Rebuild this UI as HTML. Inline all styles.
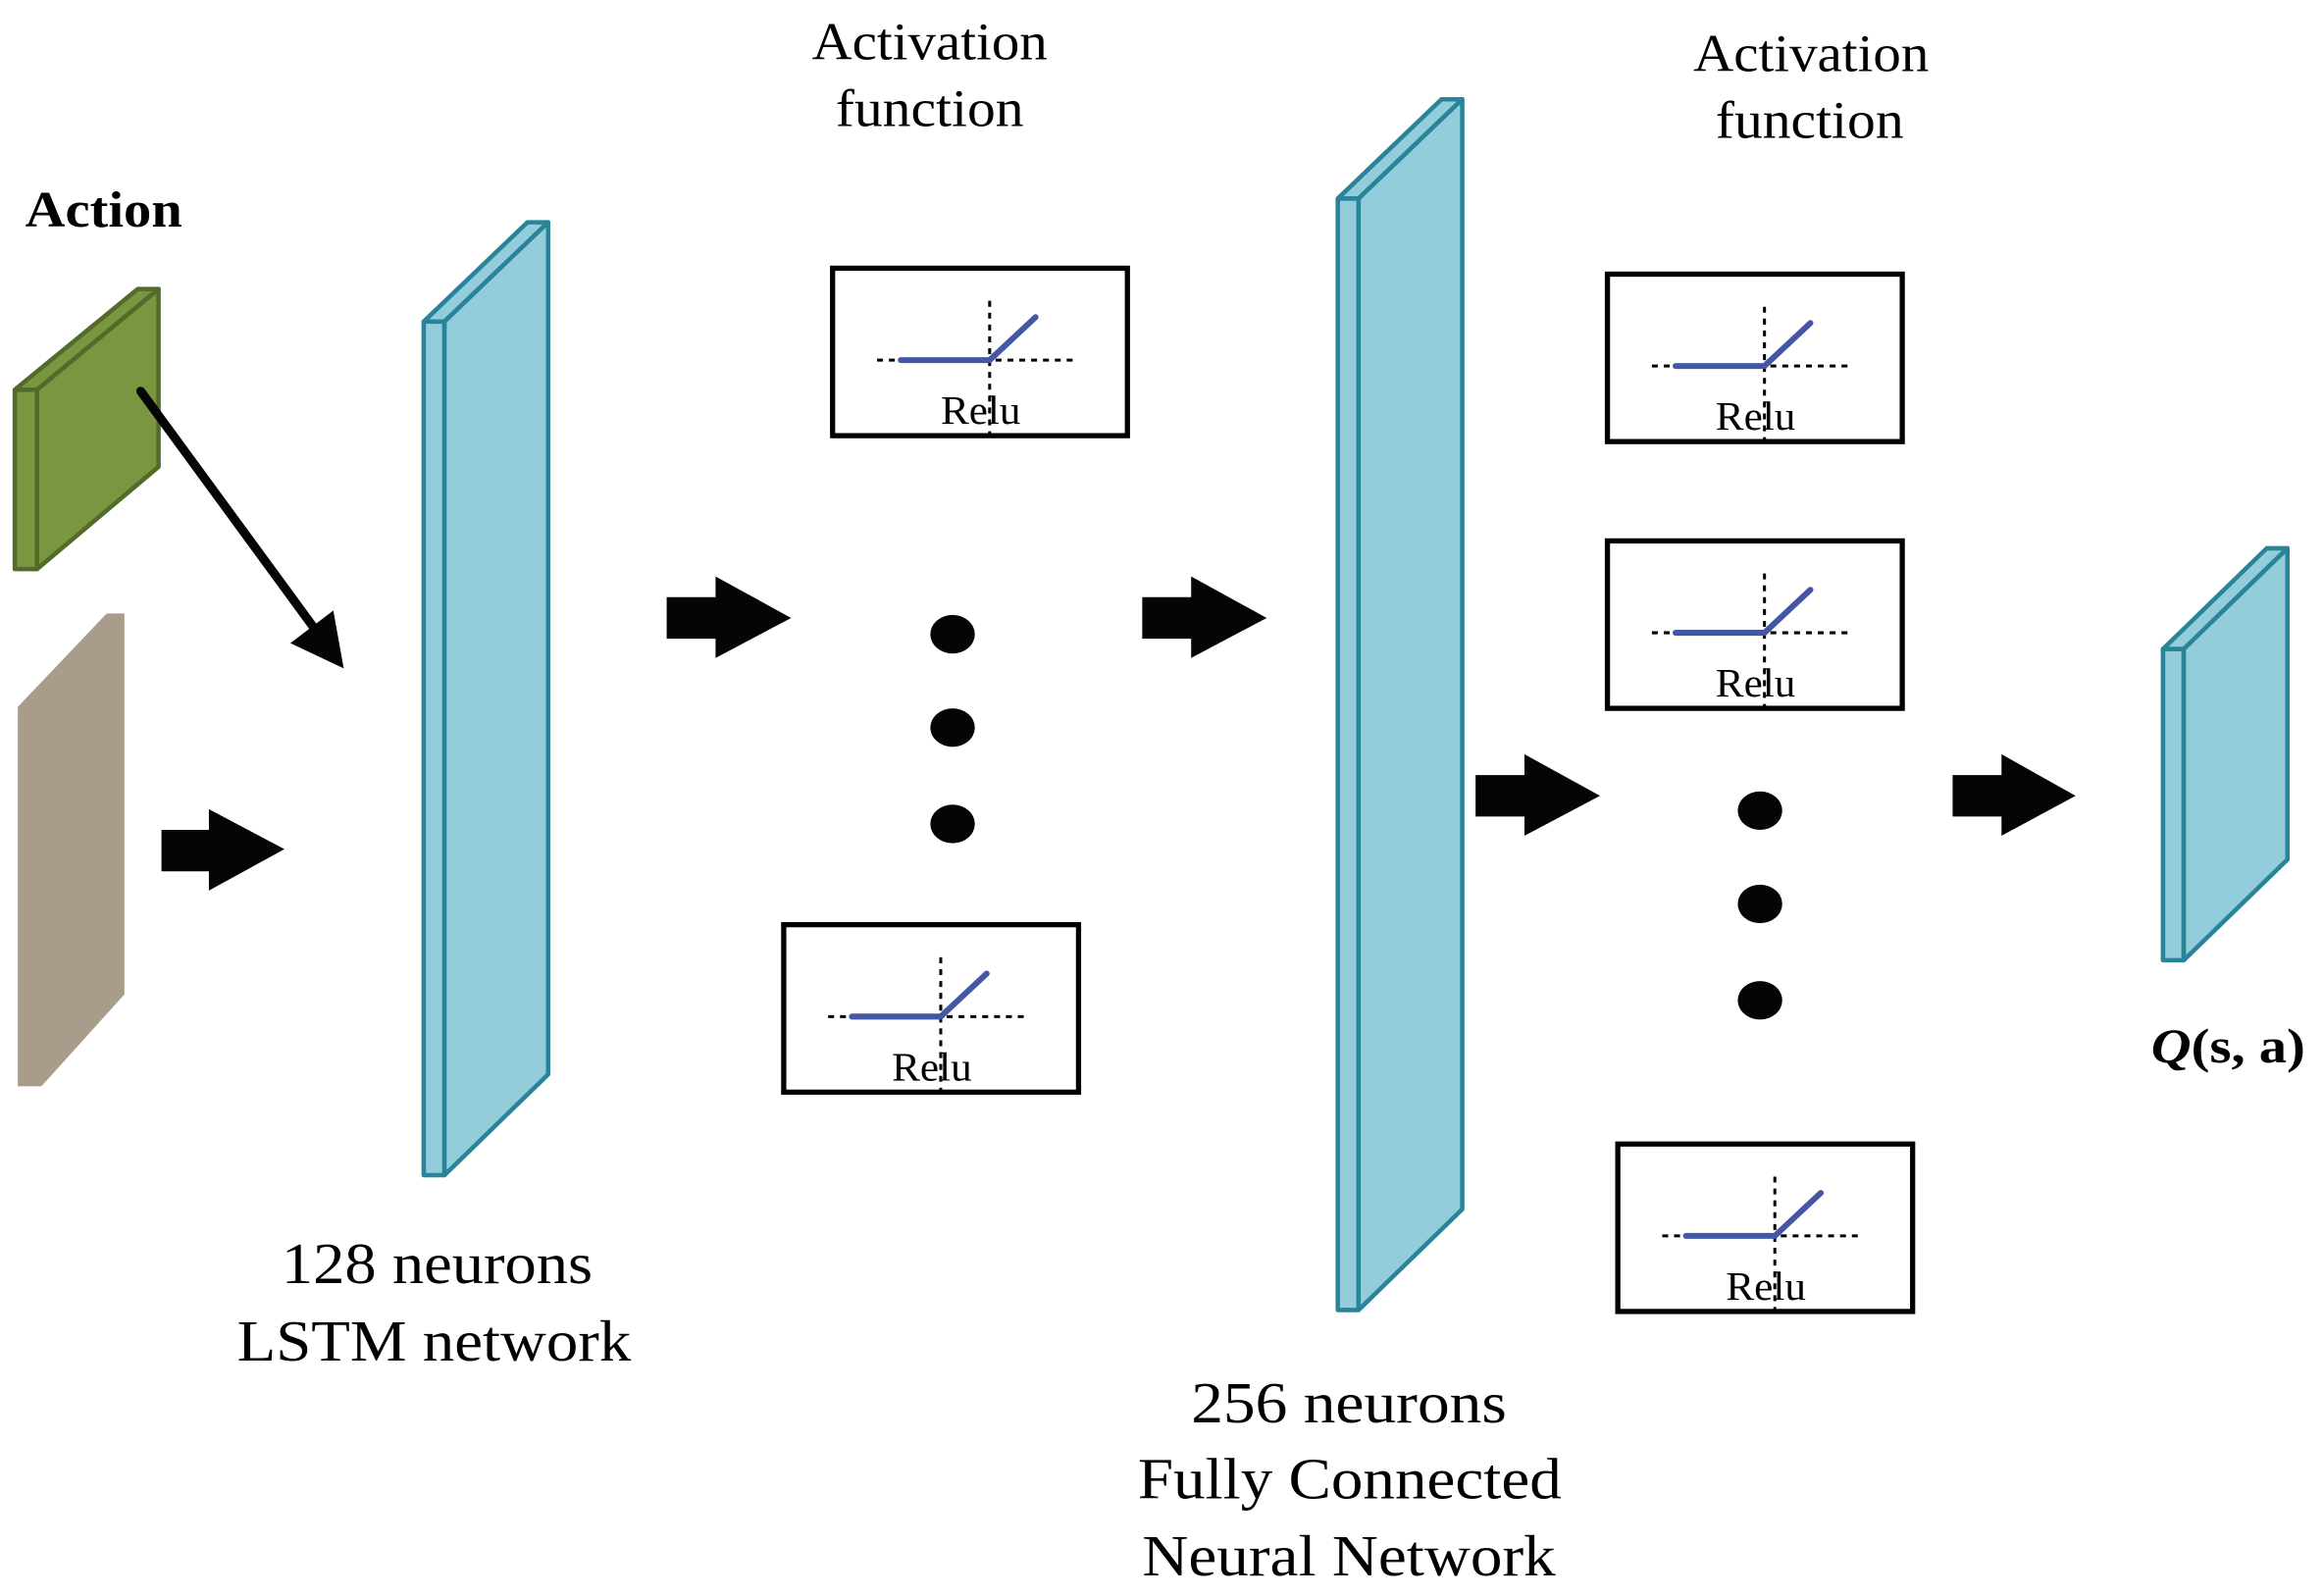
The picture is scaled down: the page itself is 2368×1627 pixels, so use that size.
<!DOCTYPE html>
<html><head><meta charset="utf-8"><style>html,body{margin:0;padding:0;background:#fff}svg{display:block}</style></head>
<body>
<svg width="2368" height="1627" viewBox="0 0 1568 1077" preserveAspectRatio="none" xmlns="http://www.w3.org/2000/svg" font-family="Liberation Serif, serif">
<defs>
<g id="relu">
<rect x="0" y="0" width="199" height="113" fill="#fff" stroke="#000" stroke-width="3.5"/>
<line x1="30" y1="62" x2="166" y2="62" stroke="#000" stroke-width="2" stroke-dasharray="4,4"/>
<line x1="106" y1="22" x2="106" y2="112" stroke="#000" stroke-width="2" stroke-dasharray="4,4"/>
<polyline points="46,62 106,62 137,33" fill="none" stroke="#4457a5" stroke-width="4" stroke-linecap="round"/>
<text x="73" y="105" font-size="27" textLength="54" lengthAdjust="spacingAndGlyphs">Relu</text>
</g>
</defs>
<g stroke="#536b2a" stroke-width="3" fill="#7a9640" stroke-linejoin="round">
<polygon points="10,263 93,195 107,195 25,263"/>
<polygon points="10,263 25,263 25,384 10,384"/>
<polygon points="25,263 107,195 107,315 25,384"/>
</g>
<polygon points="12,477 72,414 84,414 84,671 28,733 12,733" fill="#a89d8a"/>
<g stroke="#2a8499" stroke-width="3" fill="#93cddb" stroke-linejoin="round">
<polygon points="286,217 356,150 370,150 300,217"/>
<polygon points="286,217 300,217 300,793 286,793"/>
<polygon points="300,217 370,150 370,725 300,793"/>
<polygon points="903,134 973,67 987,67 917,134"/>
<polygon points="903,134 917,134 917,884 903,884"/>
<polygon points="917,134 987,67 987,816 917,884"/>
<polygon points="1460,438 1530,370 1544,370 1474,438"/>
<polygon points="1460,438 1474,438 1474,648 1460,648"/>
<polygon points="1474,438 1544,370 1544,580 1474,648"/>
</g>
<g fill="#040605">
<polygon points="109,560 141,560 141,546 192,573 141,601 141,588 109,588"/>
<polygon points="450,403 483,403 483,389 534,417 483,444 483,431 450,431"/>
<polygon points="771,403 804,403 804,389 855,417 804,444 804,431 771,431"/>
<polygon points="996,523 1029,523 1029,509 1080,537 1029,564 1029,551 996,551"/>
<polygon points="1318,523 1351,523 1351,509 1401,537 1351,564 1351,551 1318,551"/>
<polygon points="196,434 232,451 225,412"/>
<ellipse cx="643" cy="428" rx="15" ry="13"/><ellipse cx="643" cy="491" rx="15" ry="13"/><ellipse cx="643" cy="556" rx="15" ry="13"/>
<ellipse cx="1188" cy="547" rx="15" ry="13"/><ellipse cx="1188" cy="610" rx="15" ry="13"/><ellipse cx="1188" cy="675" rx="15" ry="13"/>
</g>
<line x1="95" y1="264" x2="218" y2="432" stroke="#040605" stroke-width="6" stroke-linecap="round"/>
<use href="#relu" x="562" y="181"/>
<use href="#relu" x="529" y="624"/>
<use href="#relu" x="1085" y="185"/>
<use href="#relu" x="1085" y="365"/>
<use href="#relu" x="1092" y="772"/>
<g lengthAdjust="spacingAndGlyphs">
<text x="17" y="153" font-size="34" font-weight="bold" textLength="106" lengthAdjust="spacingAndGlyphs">Action</text>
<g font-size="36">
<text x="548" y="40" textLength="159" lengthAdjust="spacingAndGlyphs">Activation</text>
<text x="564" y="85" textLength="127" lengthAdjust="spacingAndGlyphs">function</text>
<text x="1143" y="48" textLength="159" lengthAdjust="spacingAndGlyphs">Activation</text>
<text x="1158" y="93" textLength="127" lengthAdjust="spacingAndGlyphs">function</text>
</g>
<g font-size="39">
<text x="190" y="866" textLength="210" lengthAdjust="spacingAndGlyphs">128 neurons</text>
<text x="160" y="918" textLength="266" lengthAdjust="spacingAndGlyphs">LSTM network</text>
<text x="804" y="960" textLength="213" lengthAdjust="spacingAndGlyphs">256 neurons</text>
<text x="768" y="1011" textLength="286" lengthAdjust="spacingAndGlyphs">Fully Connected</text>
<text x="771" y="1063" textLength="279" lengthAdjust="spacingAndGlyphs">Neural Network</text>
</g>
<text x="1452" y="717" font-size="33" font-weight="bold" textLength="104" lengthAdjust="spacingAndGlyphs"><tspan font-style="italic">Q</tspan>(s, a)</text>
</g>
</svg>
</body></html>
